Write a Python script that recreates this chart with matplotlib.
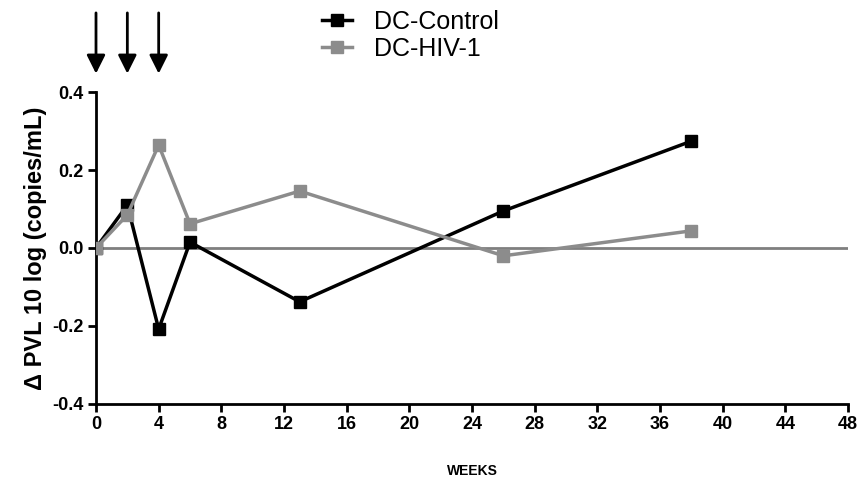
import matplotlib
matplotlib.use("Agg")
from matplotlib import pyplot as plt

plt.rcParams['font.family'] = ['Liberation Sans', 'DejaVu Sans']

# Data
weeks = [0, 2, 4, 6, 13, 26, 38]
dc_control = [0.0, 0.11, -0.208, 0.015, -0.138, 0.095, 0.274]
dc_hiv = [0.0, 0.085, 0.264, 0.062, 0.146, -0.02, 0.044]
arrow_weeks = [0, 2, 4]
x_ticks = list(range(0, 49, 4))
y_ticks = [-0.4, -0.2, 0.0, 0.2, 0.4]

fig = plt.figure(figsize=(8.61, 4.83), dpi=100)
ax = fig.add_axes([0.1115, 0.1636, 0.8735, 0.6459])

# Zero reference line
ax.axhline(0, color='#7f7f7f', lw=2, zorder=1)

# grey series sits on top of the black one where they overlap
ax.plot(weeks, dc_control, color='black', lw=2.5, marker='s', ms=9,
        label='DC-Control', zorder=2)
ax.plot(weeks, dc_hiv, color='#8c8c8c', lw=2.5, marker='s', ms=9,
        label='DC-HIV-1', zorder=3)

# Arrows marking the immunisations
for w in arrow_weeks:
    ax.annotate('', xy=(w, 0.44), xytext=(w, 0.61), xycoords='data',
                annotation_clip=False,
                arrowprops=dict(arrowstyle='-|>', color='black', lw=2,
                                mutation_scale=28))

ax.set_xlim(0, 48)
ax.set_ylim(-0.4, 0.4)
ax.set_xticks(x_ticks)
ax.set_yticks(y_ticks)
ax.set_yticklabels(['%.1f' % v for v in y_ticks])
ax.spines['top'].set_visible(False)
ax.spines['right'].set_visible(False)
ax.spines['left'].set_linewidth(2)
ax.spines['bottom'].set_linewidth(2)
ax.tick_params(width=2, length=6, labelsize=13, pad=3)
for lbl in ax.get_xticklabels() + ax.get_yticklabels():
    lbl.set_fontweight('bold')

ax.set_ylabel('\u0394 PVL 10 log (copies/mL)', fontsize=17, fontweight='bold',
              labelpad=4)
ax.set_xlabel('WEEKS', fontsize=10, fontweight='bold', labelpad=22)

ax.legend(loc='upper left', bbox_to_anchor=(0.27, 1.335), frameon=False,
          fontsize=18, handlelength=1.2, handletextpad=0.9, labelspacing=0.1)

fig.savefig('out.png', dpi=100)
